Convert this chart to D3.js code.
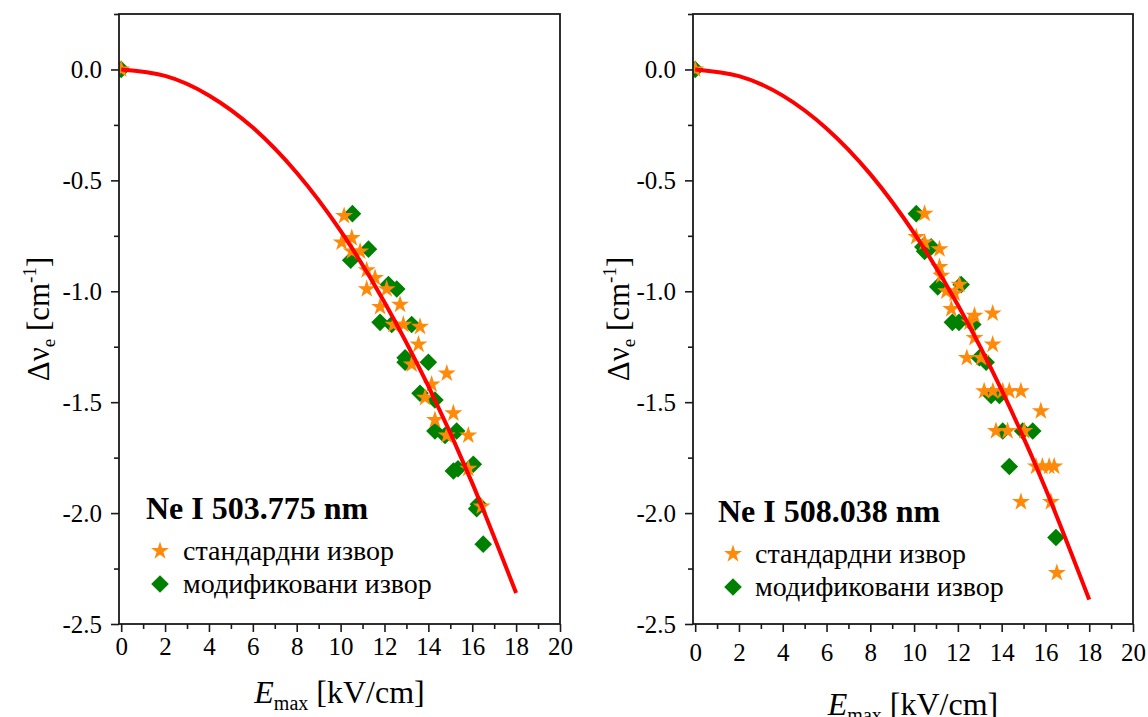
<!DOCTYPE html>
<html>
<head>
<meta charset="utf-8">
<script src="https://cdn.jsdelivr.net/npm/d3@7"></script>
<style>
  body { margin: 0; background: #fff; }
  svg text { font-family: "Liberation Serif", "Times New Roman", serif; fill: #000; }
</style>
</head>
<body>
<svg id="chart" width="1148" height="717"></svg>
<script>
// x ticks and y ticks shared by both panels
var xTicks = [0, 2, 4, 6, 8, 10, 12, 14, 16, 18, 20];
var yTicks = [0, -0.5, -1.0, -1.5, -2.0, -2.5];

var legendLabels = ['стандардни извор', 'модификовани извор'];

// Ne I 503.775 nm
var stdLeft = [
  [0, 0], [10.16, -0.66], [10.05, -0.78], [10.51, -0.76], [10.51, -0.82], [10.89, -0.82],
  [11.19, -0.905], [11.57, -0.94], [11.19, -0.99], [12.10, -0.99], [12.71, -1.06], [11.80, -1.07],
  [12.41, -1.15], [12.86, -1.15], [13.62, -1.16], [13.55, -1.24], [13.24, -1.33], [14.84, -1.37],
  [14.15, -1.42], [13.85, -1.48], [15.14, -1.55], [14.30, -1.58], [14.84, -1.65], [15.82, -1.65],
  [15.82, -1.80], [16.43, -1.97]
];
var modLeft = [
  [0, 0], [10.54, -0.65], [11.27, -0.81], [10.46, -0.86], [12.18, -0.97], [12.56, -0.99],
  [11.80, -1.14], [12.33, -1.15], [13.24, -1.15], [12.94, -1.30], [12.94, -1.32], [14.00, -1.32],
  [13.62, -1.46], [14.30, -1.49], [14.30, -1.63], [15.29, -1.63], [14.76, -1.65], [15.14, -1.81],
  [15.35, -1.80], [16.05, -1.78], [16.28, -1.96], [16.20, -1.98], [16.50, -2.14]
];
var fitLeftX = [0, 2, 4, 6, 8, 10, 12, 14, 16, 18];
var fitLeftY = [0, -0.029, -0.117, -0.262, -0.466, -0.728, -1.049, -1.428, -1.865, -2.36];

// Ne I 508.038 nm
var stdRight = [
  [0, 0], [10.48, -0.65], [10.10, -0.755], [10.48, -0.78], [11.16, -0.81], [11.16, -0.89],
  [11.24, -0.93], [12.07, -0.97], [11.47, -1.00], [11.85, -1.01], [11.70, -1.08], [12.76, -1.11],
  [13.59, -1.10], [12.53, -1.14], [12.76, -1.21], [13.59, -1.24], [12.41, -1.30], [13.06, -1.30],
  [13.20, -1.45], [13.60, -1.45], [14.05, -1.45], [14.35, -1.45], [14.88, -1.45], [15.79, -1.54],
  [13.74, -1.63], [14.27, -1.63], [15.03, -1.63], [15.57, -1.79], [15.86, -1.79], [16.17, -1.79],
  [16.40, -1.79], [14.88, -1.95], [16.25, -1.95], [16.52, -2.27]
];
var modRight = [
  [0, 0], [10.10, -0.65], [10.40, -0.80], [10.78, -0.80], [10.48, -0.82], [11.08, -0.98],
  [12.15, -0.97], [11.75, -1.14], [12.05, -1.14], [12.68, -1.15], [12.98, -1.30], [13.29, -1.32],
  [13.52, -1.47], [13.90, -1.47], [14.05, -1.63], [14.96, -1.63], [15.42, -1.63], [14.35, -1.79],
  [16.48, -2.11]
];
var fitRightX = [0, 2, 4, 6, 8, 10, 12, 14, 16, 18];
var fitRightY = [0, -0.030, -0.118, -0.266, -0.472, -0.738, -1.062, -1.446, -1.889, -2.39];

var panels = [
  { id: 'l', left: 119, right: 560, title: 'Ne I 503.775 nm', std: stdLeft, mod: modLeft,
    fitX: fitLeftX, fitY: fitLeftY, xLabY: 703, tickY: 655, yLabX: 49,
    leg: { x: 146, y: 519, mx: 160, tx: 183 } },
  { id: 'r', left: 693, right: 1133, title: 'Ne I 508.038 nm', std: stdRight, mod: modRight,
    fitX: fitRightX, fitY: fitRightY, xLabY: 715, tickY: 661, yLabX: 629,
    leg: { x: 718, y: 522, mx: 733, tx: 755 } }
];

var plotTop = 14, plotBottom = 624;
var orange = '#FF8A0A', green = '#008000', red = '#FF0000', ink = '#1a1a1a';
var star = d3.symbol(d3.symbolStar).size(100);
var square = d3.symbol(d3.symbolSquare).size(155);
var svg = d3.select('#chart');

function drawPanel(p) {
  var x = d3.scaleLinear().domain([-0.1, 20]).range([p.left, p.right]),
      y = d3.scaleLinear().domain([-2.5, 0.25]).range([plotBottom, plotTop]),
      g = svg.append('g');

  g.append('clipPath').attr('id', 'clip-' + p.id)
    .append('rect').attr('x', p.left).attr('y', plotTop)
    .attr('width', p.right - p.left).attr('height', plotBottom - plotTop);

  var plot = g.append('g').attr('clip-path', 'url(#clip-' + p.id + ')');

  plot.selectAll('path.mod').data(p.mod).enter().append('path')
    .attr('class', 'mod')
    .attr('d', square)
    .attr('transform', function(d) { return 'translate(' + x(d[0]) + ',' + y(d[1]) + ') rotate(45)'; })
    .attr('fill', green);

  plot.selectAll('path.std').data(p.std).enter().append('path')
    .attr('class', 'std')
    .attr('d', star)
    .attr('transform', function(d) { return 'translate(' + x(d[0]) + ',' + y(d[1]) + ')'; })
    .attr('fill', orange);

  var line = d3.line()
    .x(function(d, i) { return x(p.fitX[i]); })
    .y(function(d) { return y(d); })
    .curve(d3.curveNatural);
  plot.append('path').datum(p.fitY)
    .attr('d', line).attr('fill', 'none')
    .attr('stroke', red).attr('stroke-width', 4);

  // axes (plain hyphen for negatives, like the original)
  var xAxis = d3.axisBottom(x).tickValues(xTicks).tickSize(8).tickPadding(6).tickFormat(d3.format('d')),
      xMinor = d3.axisBottom(x).tickValues(d3.range(1, 20, 2)).tickSize(5).tickFormat(''),
      yAxis = d3.axisLeft(y).tickValues(yTicks).tickSize(8).tickPadding(9)
        .tickFormat(function(d) { return d.toFixed(1); }),
      yMinor = d3.axisLeft(y).tickValues([0.25, -0.25, -0.75, -1.25, -1.75, -2.25]).tickSize(5).tickFormat('');

  var gx = g.append('g').attr('transform', 'translate(0,' + plotBottom + ')').call(xAxis);
  g.append('g').attr('transform', 'translate(0,' + plotBottom + ')').call(xMinor);
  var gy = g.append('g').attr('transform', 'translate(' + p.left + ',0)').call(yAxis);
  g.append('g').attr('transform', 'translate(' + p.left + ',0)').call(yMinor);

  g.selectAll('.domain').remove();
  g.selectAll('.tick line').attr('stroke', ink).attr('stroke-width', 1.6);
  gx.selectAll('.tick text').attr('y', null).attr('dy', null)
    .attr('transform', 'translate(0,' + (p.tickY - plotBottom) + ')')
    .style('font-size', '25px');
  gy.selectAll('.tick text').style('font-size', '25px').attr('dy', '0.34em');
  g.selectAll('.tick text').attr('fill', '#000').style('font-family', '"Liberation Serif", serif');

  g.append('rect')
    .attr('x', p.left).attr('y', plotTop)
    .attr('width', p.right - p.left).attr('height', plotBottom - plotTop)
    .attr('fill', 'none').attr('stroke', ink).attr('stroke-width', 1.8);

  // axis titles
  var xt = g.append('text')
    .attr('x', (p.left + p.right) / 2).attr('y', p.xLabY)
    .attr('text-anchor', 'middle').style('font-size', '32px');
  xt.append('tspan').style('font-style', 'italic').text('E');
  xt.append('tspan').attr('dy', 7).style('font-size', '20px').text('max');
  xt.append('tspan').attr('dy', -7).text(' [kV/cm]');

  var yt = g.append('text')
    .attr('transform', 'translate(' + p.yLabX + ',' + ((plotTop + plotBottom) / 2) + ') rotate(-90)')
    .attr('text-anchor', 'middle').style('font-size', '31px');
  yt.append('tspan').text('Δν');
  yt.append('tspan').attr('dy', 6).style('font-size', '19px').text('e');
  yt.append('tspan').attr('dy', -6).text(' [cm');
  yt.append('tspan').attr('dy', -13).style('font-size', '19px').text('-1');
  yt.append('tspan').attr('dy', 13).text(']');

  // legend
  var L = p.leg;
  g.append('text').attr('x', L.x).attr('y', L.y)
    .style('font-size', '32px').style('font-weight', 'bold').text(p.title);
  g.append('path').attr('d', star)
    .attr('transform', 'translate(' + L.mx + ',' + (L.y + 32) + ')').attr('fill', orange);
  g.append('path').attr('d', square)
    .attr('transform', 'translate(' + L.mx + ',' + (L.y + 65) + ') rotate(45)').attr('fill', green);
  g.selectAll('text.leg').data(legendLabels).enter().append('text')
    .attr('class', 'leg')
    .attr('x', L.tx).attr('y', function(d, i) { return L.y + 41 + i * 33; })
    .style('font-size', '28px').text(function(d) { return d; });
}

panels.forEach(drawPanel);
</script>
</body>
</html>
